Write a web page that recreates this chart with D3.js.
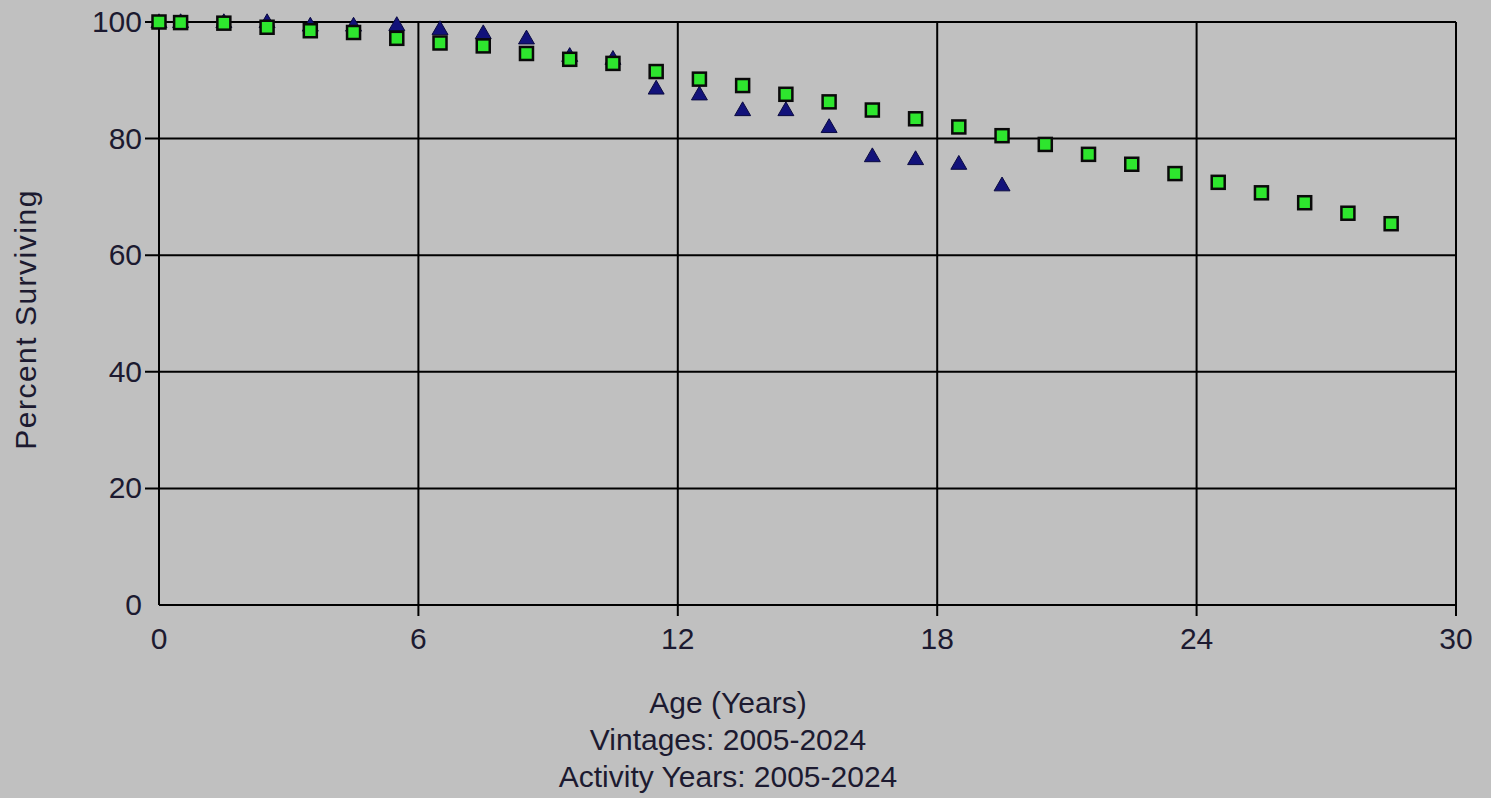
<!DOCTYPE html>
<html>
<head>
<meta charset="utf-8">
<script src="https://cdn.jsdelivr.net/npm/d3@7"></script>
<style>
  html, body { margin: 0; padding: 0; background: #c0c0c0; }
  svg { display: block; }
  text { font-family: "Liberation Sans", Arial, sans-serif; }
</style>
</head>
<body>
<svg id="chart" width="1491" height="798"></svg>
<script>
// ---- data ----
const greenAges = [0, 0.5, 1.5, 2.5, 3.5, 4.5, 5.5, 6.5, 7.5, 8.5, 9.5, 10.5, 11.5, 12.5, 13.5, 14.5,
  15.5, 16.5, 17.5, 18.5, 19.5, 20.5, 21.5, 22.5, 23.5, 24.5, 25.5, 26.5, 27.5, 28.5];
const greenValues = [100, 99.9, 99.8, 99.1, 98.5, 98.2, 97.2, 96.4, 95.9, 94.6, 93.6, 92.9, 91.5, 90.2,
  89.1, 87.6, 86.3, 84.9, 83.4, 82.0, 80.5, 79.0, 77.3, 75.6, 74.0, 72.5, 70.7, 69.0, 67.2, 65.4];
const navyAges = [0, 0.5, 1.5, 2.5, 3.5, 4.5, 5.5, 6.5, 7.5, 8.5, 9.5, 10.5, 11.5, 12.5, 13.5, 14.5,
  15.5, 16.5, 17.5, 18.5, 19.5];
const navyValues = [100, 100, 100, 100, 99.4, 99.4, 99.5, 98.8, 98.1, 97.2, 94.2, 93.7, 88.6, 87.6,
  84.9, 84.9, 82.0, 77.0, 76.5, 75.7, 72.0];
const xTicks = [0, 6, 12, 18, 24, 30];
const yTicks = [0, 20, 40, 60, 80, 100];
const yTitle = "Percent Surviving";
const xTitleLines = ["Age (Years)", "Vintages: 2005-2024", "Activity Years: 2005-2024"];

// ---- layout ----
const W = 1491, H = 798;
const m = { left: 159, right: 35, top: 22, bottom: 193 };
const svg = d3.select("#chart");
const x = d3.scaleLinear().domain([0, 30]).range([m.left, W - m.right]);
const y = d3.scaleLinear().domain([0, 100]).range([H - m.bottom, m.top]);
const textColor = "#1c1a30";

svg.append("rect").attr("width", W).attr("height", H).attr("fill", "#c0c0c0");

const grid = svg.append("g").attr("stroke", "#000").attr("stroke-width", 2);
// horizontal grid lines + left ticks
grid.selectAll("line.h").data(yTicks).join("line")
  .attr("x1", d => d === 0 ? x(0) : x(0) - 14)
  .attr("x2", x(30))
  .attr("y1", d => y(d)).attr("y2", d => y(d));
// vertical grid lines + bottom ticks
grid.selectAll("line.v").data(xTicks).join("line")
  .attr("x1", d => x(d)).attr("x2", d => x(d))
  .attr("y1", y(100))
  .attr("y2", d => d === 0 ? y(0) : y(0) + 11);

// tick labels
svg.append("g").selectAll("text").data(yTicks).join("text")
  .attr("x", x(0) - 17)
  .attr("y", d => y(d) + 2)
  .attr("text-anchor", "end")
  .attr("dominant-baseline", "middle")
  .attr("font-size", 30)
  .attr("fill", textColor)
  .text(d => d);

svg.append("g").selectAll("text").data(xTicks).join("text")
  .attr("x", d => x(d))
  .attr("y", y(0) + 44)
  .attr("text-anchor", "middle")
  .attr("font-size", 30)
  .attr("fill", textColor)
  .text(d => d);

// axis titles
svg.append("text")
  .attr("transform", `translate(36, ${(y(0) + y(100)) / 2 + 6}) rotate(-90)`)
  .attr("text-anchor", "middle")
  .attr("font-size", 30)
  .attr("letter-spacing", 1.5)
  .attr("fill", textColor)
  .text(yTitle);

svg.append("g").selectAll("text").data(xTitleLines).join("text")
  .attr("x", 728)
  .attr("y", (d, i) => 713 + i * 37)
  .attr("text-anchor", "middle")
  .attr("font-size", 30)
  .attr("fill", textColor)
  .text(d => d);

// triangles (drawn first, behind squares)
const tri = d3.symbol().type(d3.symbolTriangle).size(110);
svg.append("g").selectAll("path").data(navyAges.map((a, i) => [a, navyValues[i]])).join("path")
  .attr("d", tri)
  .attr("transform", d => `translate(${x(d[0])}, ${y(d[1]) + 1})`)
  .attr("fill", "#12127a")
  .attr("stroke", "#0a0a40")
  .attr("stroke-width", 1);

// squares
const sq = 13;
svg.append("g").selectAll("rect").data(greenAges.map((a, i) => [a, greenValues[i]])).join("rect")
  .attr("x", d => x(d[0]) - sq / 2)
  .attr("y", d => y(d[1]) - sq / 2)
  .attr("width", sq).attr("height", sq)
  .attr("fill", "#2ee62e")
  .attr("stroke", "#0a0a0a")
  .attr("stroke-width", 2.5);
</script>
</body>
</html>
